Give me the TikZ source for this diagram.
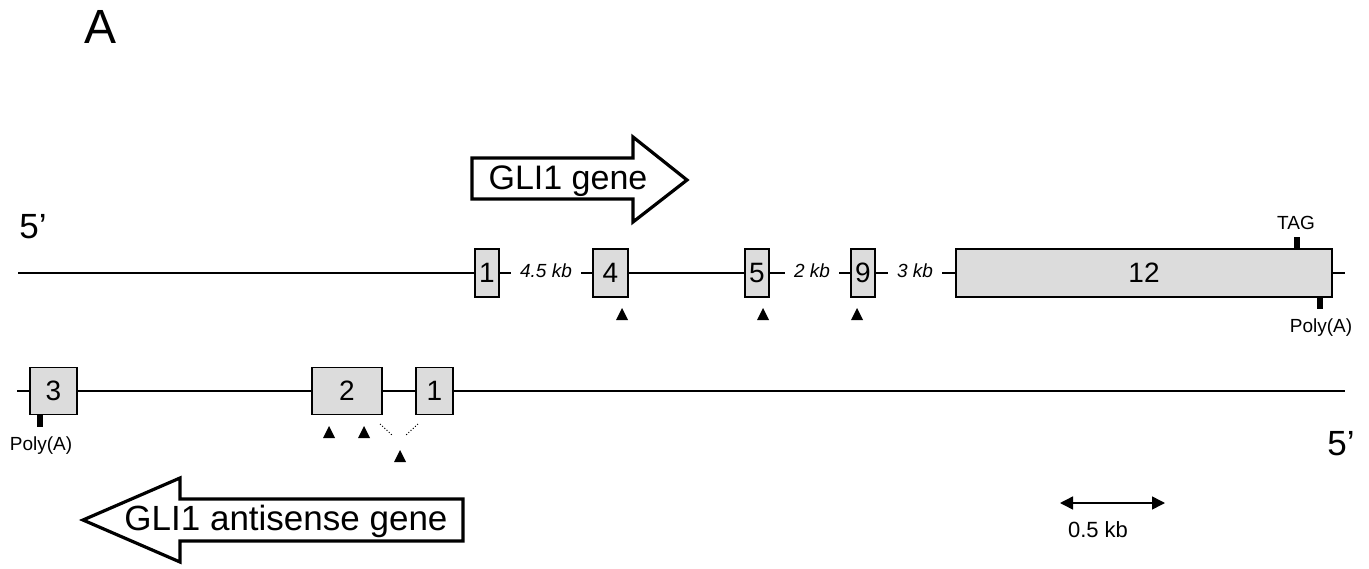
\documentclass[tikz,border=0pt]{standalone}
\usepackage{fontspec}
\setmainfont{Liberation Sans}
\usetikzlibrary{arrows.meta}
\definecolor{exongray}{HTML}{DCDCDC}
\begin{document}
\begin{tikzpicture}[x=1pt,y=-1pt,
  exon/.style={draw, line width=1.5pt, fill=exongray, inner sep=0pt, font=\fontsize{28}{28}\selectfont},
  intron/.style={line width=1.4pt},
  kb/.style={inner xsep=9pt, inner ysep=0pt, font=\fontsize{19}{19}\selectfont\itshape},
  small/.style={font=\fontsize{19}{19}\selectfont},
  tick/.style={line width=6pt},
  bigarrow/.style={draw, line width=3.2pt, fill=white},
  tri/.pic={\fill (-6,0) -- (6,0) -- (0,-12) -- cycle;}
]
\useasboundingbox (0,0) rectangle (1369,568);

% labels
\node (lblA) at (101,27) {\fontsize{48}{48}\selectfont A};
\node (p5top) at (33,227) {\fontsize{35}{35}\selectfont 5’};
\node (p5bot) at (1341,444) {\fontsize{35}{35}\selectfont 5’};

% sense gene arrow
\draw[bigarrow] (472,158) -- (633,158) -- (633,137) -- (687,180) -- (633,222) -- (633,199) -- (472,199) -- cycle;
\node (senseTxt) at (568,181) {\fontsize{34}{34}\selectfont GLI1 gene};

% antisense gene arrow
\draw[bigarrow] (463,499) -- (180,499) -- (180,478) -- (83,520) -- (180,562) -- (180,541) -- (463,541) -- cycle;
\node (antiTxt) at (286,521) {\fontsize{35}{35}\selectfont GLI1 antisense gene};

% top strand
\coordinate (tL) at (18,273);
\coordinate (tR) at (1345,273);
\node[exon, minimum width=24pt, minimum height=48pt] (e1) at (487,273) {1};
\node[kb] (k1) at (546,271) {4.5 kb};
\node[exon, minimum width=35pt, minimum height=48pt] (e4) at (610.5,273) {4};
\node[exon, minimum width=24pt, minimum height=48pt] (e5) at (757,273) {5};
\node[kb] (k2) at (812,271) {2 kb};
\node[exon, minimum width=24pt, minimum height=48pt] (e9) at (863,273) {9};
\node[kb] (k3) at (915,271) {3 kb};
\node[exon, minimum width=376pt, minimum height=48pt] (e12) at (1144,273) {12};

\draw[intron] (tL) -- (e1.west);
\draw[intron] (e1.east) -- (e1.east -| k1.west);
\draw[intron] (e4.west -| k1.east) -- (e4.west);
\draw[intron] (e4.east) -- (e5.west);
\draw[intron] (e5.east) -- (e5.east -| k2.west);
\draw[intron] (e9.west -| k2.east) -- (e9.west);
\draw[intron] (e9.east) -- (e9.east -| k3.west);
\draw[intron] (e12.west -| k3.east) -- (e12.west);
\draw[intron] (e12.east) -- (tR);

\draw[tick] ([xshift=153pt]e12.north) -- ++(0,-11);
\node[small] (tag) at (1296,223) {TAG};
\draw[tick] ([xshift=176pt]e12.south) -- ++(0,11);
\node[small] (polyA1) at (1321,328) {Poly(A)};

\pic at (622,320) {tri};
\pic at (763,320) {tri};
\pic at (857,320) {tri};

% bottom strand
\coordinate (bL) at (17,391);
\coordinate (bR) at (1345,391);
\node[exon, minimum width=47pt, minimum height=47pt] (b3) at (53.5,391) {3};
\node[exon, minimum width=70pt, minimum height=47pt] (b2) at (347,391) {2};
\node[exon, minimum width=37pt, minimum height=47pt] (b1) at (434.5,391) {1};
\draw[intron] (bL) -- (b3.west);
\draw[intron] (b3.east) -- (b2.west);
\draw[intron] (b2.east) -- (b1.west);
\draw[intron] (b1.east) -- (bR);

\draw[tick] ([xshift=-13.5pt]b3.south) -- ++(0,12);
\node[small] (polyA2) at (41,446) {Poly(A)};

\pic at (329,438) {tri};
\pic at (364,438) {tri};
\pic at (400,462) {tri};
\draw[line width=1pt, dotted] (380,424) -- (392,435);
\draw[line width=1pt, dotted] (418,424) -- (406,435);

% scale bar
\coordinate (sL) at (1060,503);
\coordinate (sR) at (1165,503);
\draw[line width=1.5pt, {Triangle[length=13pt,width=13pt]}-{Triangle[length=13pt,width=13pt]}] (sL) -- (sR);
\node[font=\fontsize{22}{22}\selectfont] (scaleTxt) at (1098,530) {0.5 kb};
\end{tikzpicture}
\end{document}
